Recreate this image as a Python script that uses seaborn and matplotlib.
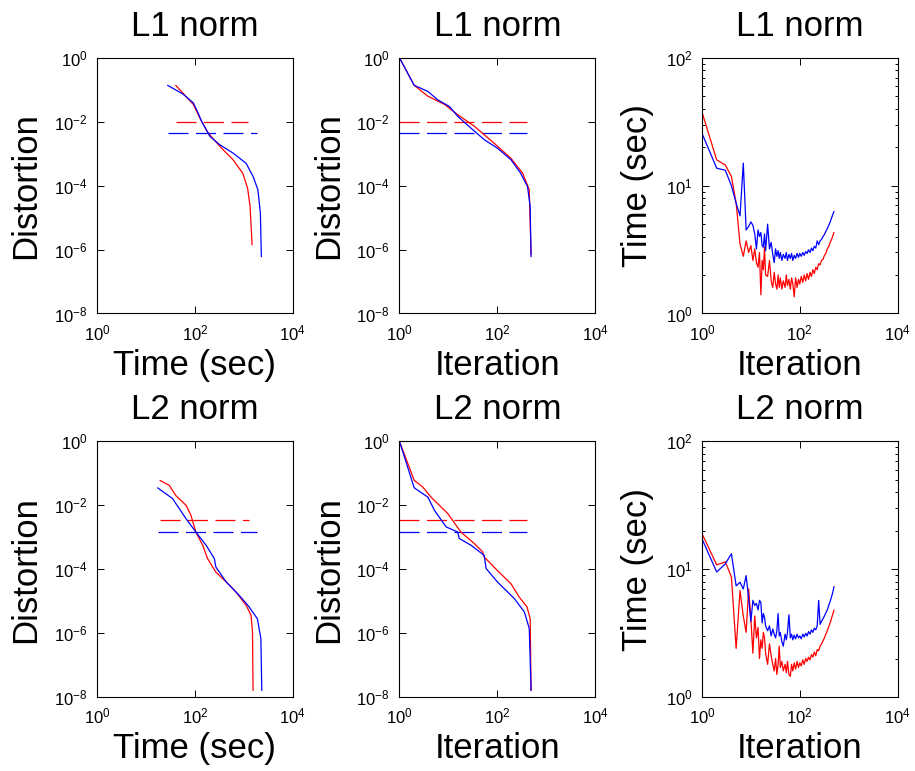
import numpy as np
import pandas as pd
import matplotlib
matplotlib.use("Agg")
import matplotlib.pyplot as plt
import matplotlib.ticker as mticker
import seaborn as sns

# =========================
# Distortion vs time (L1)
# =========================
l1_time_blue_t = [27.7, 57, 93, 117, 138, 204, 324, 603, 1120, 1550, 1950, 2190, 2290]
l1_time_blue_d = [0.138, 0.074, 0.039, 0.0186, 0.0102, 0.00347, 0.0019, 0.00105, 0.0005,
                  0.000195, 7.4e-5, 1.38e-5, 6.0e-7]
l1_time_red_t = [40.7, 57, 93, 126, 186, 324, 603, 955, 1200, 1350, 1480]
l1_time_red_d = [0.138, 0.079, 0.035, 0.0132, 0.0045, 0.0017, 0.00065, 0.000245, 8.3e-5, 2.2e-5, 1.4e-6]
l1_time_ref_red = ([40.7, 1200], 0.0095)
l1_time_ref_blue = ([27.7, 1870], 0.0045)

# =========================
# Distortion vs iteration (L1)
# =========================
l1_iter_blue_i = [1, 2, 3.8, 6, 10.5, 15.5, 29, 54, 100, 190, 300, 415, 470, 490]
l1_iter_blue_d = [1, 0.138, 0.089, 0.049, 0.030, 0.0148, 0.0063, 0.00275, 0.0015, 0.00065,
                  0.000245, 9.3e-5, 2.2e-5, 6.0e-7]
l1_iter_red_i = [1, 2, 3.8, 8.3, 15.5, 34, 87, 190, 330, 450, 490]
l1_iter_red_d = [1, 0.138, 0.063, 0.035, 0.0166, 0.0072, 0.0021, 0.00072, 0.000245, 7.4e-5, 7e-7]
l1_iter_ref_red = ([1, 400], 0.0095)
l1_iter_ref_blue = ([1, 400], 0.0045)

# =========================
# Time per iteration
# =========================
iters = [1, 2, 3, 4, 5, 6, 7, 8, 9, 10, 11, 12, 13, 14, 15, 16, 17, 18, 19, 20, 22, 24, 26, 28,
         30, 32, 34, 36, 38, 40, 43, 46, 50, 53, 56, 60, 64, 68, 72, 77, 82, 88, 94, 100, 107,
         115, 123, 132, 141, 151, 162, 173, 185, 198, 212, 227, 243, 260, 278, 298, 319, 341,
         365, 391, 418, 447, 478, 500]
l1_sec_red = [37.7, 15.9, 14.5, 11.8, 7.3, 3.5, 2.8, 3.7, 3.0, 3.4, 2.6, 3.2, 2.5, 2.3, 3.0, 1.4,
              2.6, 2.2, 3.3, 2.0, 1.95, 2.6, 1.8, 1.6, 2.1, 1.7, 1.55, 2.0, 1.6, 1.9, 1.55, 1.8,
              1.6, 2.0, 1.65, 1.85, 1.55, 1.9, 1.7, 1.35, 1.9, 1.6, 1.85, 1.7, 1.95, 1.75, 2.0,
              1.8, 2.05, 1.85, 2.1, 1.95, 2.2, 2.05, 2.3, 2.2, 2.45, 2.4, 2.6, 2.65, 2.85, 2.95,
              3.2, 3.35, 3.6, 3.8, 4.1, 4.3]
l1_sec_blue = [25.7, 13.7, 13.2, 10.0, 7.3, 5.8, 15.0, 4.5, 4.8, 5.2, 4.9, 4.2, 3.2, 4.5, 4.0,
               4.3, 3.4, 3.3, 4.2, 3.1, 5.0, 3.2, 3.6, 2.9, 2.5, 3.2, 2.8, 3.1, 2.7, 3.0, 2.6,
               2.9, 2.7, 3.0, 2.6, 2.9, 2.7, 2.95, 2.6, 2.85, 2.7, 2.95, 2.75, 2.95, 2.8, 3.0,
               2.85, 3.05, 2.95, 3.15, 3.0, 3.25, 3.1, 3.35, 3.25, 3.7, 3.45, 3.7, 3.8, 4.0,
               4.15, 4.4, 4.6, 4.9, 5.2, 5.6, 6.0, 6.3]
l2_sec_red = [19.0, 10.8, 11.4, 8.7, 2.4, 6.8, 4.3, 3.2, 7.0, 4.1, 2.2, 4.3, 2.9, 3.5, 2.0, 2.8,
              2.4, 3.2, 2.9, 2.2, 1.8, 2.6, 2.1, 1.8, 1.6, 2.0, 1.5, 1.8, 2.5, 1.7, 1.9, 1.6,
              1.8, 1.55, 1.9, 1.5, 1.45, 1.8, 1.6, 1.85, 1.65, 1.9, 1.7, 1.85, 1.75, 1.95, 1.8,
              2.0, 1.9, 2.05, 1.95, 2.15, 2.05, 2.25, 2.1, 2.35, 2.3, 2.5, 2.6, 2.75, 2.9, 3.1,
              3.3, 3.55, 3.8, 4.15, 4.5, 4.8]
l2_sec_blue = [17.3, 9.5, 11.0, 13.2, 7.4, 7.9, 7.0, 8.9, 5.9, 3.9, 5.7, 5.2, 5.4, 4.8, 5.7, 5.5,
               3.8, 4.5, 4.2, 3.6, 3.3, 3.6, 3.0, 3.4, 3.1, 2.9, 3.3, 4.5, 3.0, 3.2, 2.7, 2.5,
               3.1, 2.8, 3.2, 4.4, 2.9, 3.1, 2.8, 3.05, 2.85, 3.1, 2.9, 3.0, 2.85, 3.1, 2.95,
               3.15, 3.0, 3.25, 3.1, 3.35, 3.2, 3.45, 3.35, 3.6, 5.7, 3.7, 3.9, 4.1, 4.3, 4.55,
               4.8, 5.2, 5.6, 6.1, 6.7, 7.3]

# =========================
# Distortion vs time (L2)
# =========================
l2_time_red_t = [19.4, 30, 41, 66, 83, 105, 145, 182, 269, 437, 692, 1120, 1410, 1510, 1550]
l2_time_red_d = [0.060, 0.042, 0.020, 0.010, 0.0049, 0.00145, 0.00056, 0.000214, 8.1e-5, 4.0e-5,
                 1.95e-5, 7.4e-6, 3.6e-6, 1.1e-6, 1.6e-8]
l2_time_blue_t = [17.4, 35, 66, 105, 170, 251, 269, 437, 813, 1290, 1900, 2240, 2340]
l2_time_blue_d = [0.035, 0.0162, 0.0038, 0.00145, 0.00056, 0.000214, 0.000117, 4.0e-5, 1.5e-5,
                  6.6e-6, 2.8e-6, 6.8e-7, 1.6e-8]
l2_time_ref_red = ([19.4, 1290], 0.0035)
l2_time_ref_blue = ([17.4, 1900], 0.0015)

# =========================
# Distortion vs iteration (L2)
# =========================
l2_iter_red_i = [1, 2, 3, 4.4, 9.7, 18, 34, 50, 54, 100, 190, 280, 405, 470, 490]
l2_iter_red_d = [1, 0.060, 0.037, 0.018, 0.0055, 0.00145, 0.00063, 0.00035, 0.00024, 9.1e-5,
                 3.5e-5, 1.35e-5, 6.6e-6, 2.8e-6, 1.6e-8]
l2_iter_blue_i = [1, 2, 3.8, 5.2, 9, 15.5, 16.7, 29, 54, 59, 100, 223, 357, 450, 490]
l2_iter_blue_d = [1, 0.035, 0.018, 0.0069, 0.0021, 0.00145, 0.00091, 0.00056, 0.00027, 0.000105,
                  4.0e-5, 1.2e-5, 4.6e-6, 1.4e-6, 1.6e-8]
l2_iter_ref_red = ([1, 400], 0.0035)
l2_iter_ref_blue = ([1, 400], 0.0015)

# =========================
# Styling
# =========================
sns.set_theme(style="white")
plt.rcParams['font.family'] = ['Liberation Sans', 'DejaVu Sans']
plt.rcParams['mathtext.default'] = 'regular'
plt.rcParams['axes.edgecolor'] = 'black'
plt.rcParams['axes.linewidth'] = 0.8
plt.rcParams['text.color'] = 'black'
plt.rcParams['axes.labelcolor'] = 'black'
plt.rcParams['axes.titlecolor'] = 'black'
plt.rcParams['xtick.color'] = 'black'
plt.rcParams['ytick.color'] = 'black'

fig, axs = plt.subplots(2, 3, figsize=(9.15, 7.71), dpi=100,
                        gridspec_kw=dict(left=0.106, right=0.981, bottom=0.096, top=0.925,
                                         wspace=0.546, hspace=0.50))

LW = 0.9
DASH = (0, (16, 6))


def curve(ax, x, y, color, dashed=False):
    sns.lineplot(x=x, y=y, ax=ax, color=color, lw=LW, sort=False, estimator=None,
                 linestyle=DASH if dashed else '-')


def ref(ax, span, level, color):
    curve(ax, span, [level, level], color, dashed=True)


def style(ax, title, xlabel, ylabel, kind):
    ax.set_xscale('log')
    ax.set_yscale('log')
    ax.set_xlim(1, 1e4)
    ax.set_xticks([1, 1e2, 1e4])
    ax.xaxis.set_minor_locator(mticker.NullLocator())
    if kind == 'dist':
        ax.set_ylim(1e-8, 1)
        ax.set_yticks([1e-8, 1e-6, 1e-4, 1e-2, 1])
        ax.yaxis.set_minor_locator(mticker.NullLocator())
    else:
        ax.set_ylim(1, 100)
        ax.set_yticks([1, 10, 100])
        ax.yaxis.set_minor_locator(mticker.LogLocator(base=10, subs=np.arange(2, 10)))
    ax.xaxis.set_major_formatter(mticker.LogFormatterMathtext())
    ax.yaxis.set_major_formatter(mticker.LogFormatterMathtext())
    ax.tick_params(which='both', direction='in', top=True, right=True, bottom=True, left=True,
                   width=0.7, color='black', labelcolor='black', labelsize=12, pad=7)
    ax.tick_params(which='major', length=5)
    ax.tick_params(which='minor', length=2.5)
    ax.set_title(title, fontsize=25, pad=16, color='black')
    ax.set_xlabel(xlabel, fontsize=25, labelpad=4, color='black')
    ax.set_ylabel(ylabel, fontsize=25, labelpad=8, color='black')
    for s in ax.spines.values():
        s.set_visible(True)
        s.set_color('black')


# 1. L1 distortion vs time
ax = axs[0, 0]
ref(ax, *l1_time_ref_red, 'red')
ref(ax, *l1_time_ref_blue, 'blue')
curve(ax, l1_time_red_t, l1_time_red_d, 'red')
curve(ax, l1_time_blue_t, l1_time_blue_d, 'blue')
style(ax, "L1 norm", "Time (sec)", "Distortion", 'dist')

# 2. L1 distortion vs iteration
ax = axs[0, 1]
ref(ax, *l1_iter_ref_red, 'red')
ref(ax, *l1_iter_ref_blue, 'blue')
curve(ax, l1_iter_red_i, l1_iter_red_d, 'red')
curve(ax, l1_iter_blue_i, l1_iter_blue_d, 'blue')
style(ax, "L1 norm", "Iteration", "Distortion", 'dist')

# 3. L1 time per iteration
ax = axs[0, 2]
curve(ax, iters, l1_sec_red, 'red')
curve(ax, iters, l1_sec_blue, 'blue')
style(ax, "L1 norm", "Iteration", "Time (sec)", 'sec')

# 4. L2 distortion vs time
ax = axs[1, 0]
ref(ax, *l2_time_ref_red, 'red')
ref(ax, *l2_time_ref_blue, 'blue')
curve(ax, l2_time_red_t, l2_time_red_d, 'red')
curve(ax, l2_time_blue_t, l2_time_blue_d, 'blue')
style(ax, "L2 norm", "Time (sec)", "Distortion", 'dist')

# 5. L2 distortion vs iteration
ax = axs[1, 1]
ref(ax, *l2_iter_ref_red, 'red')
ref(ax, *l2_iter_ref_blue, 'blue')
curve(ax, l2_iter_red_i, l2_iter_red_d, 'red')
curve(ax, l2_iter_blue_i, l2_iter_blue_d, 'blue')
style(ax, "L2 norm", "Iteration", "Distortion", 'dist')

# 6. L2 time per iteration
ax = axs[1, 2]
curve(ax, iters, l2_sec_red, 'red')
curve(ax, iters, l2_sec_blue, 'blue')
style(ax, "L2 norm", "Iteration", "Time (sec)", 'sec')

plt.savefig("out.png", dpi=100)
